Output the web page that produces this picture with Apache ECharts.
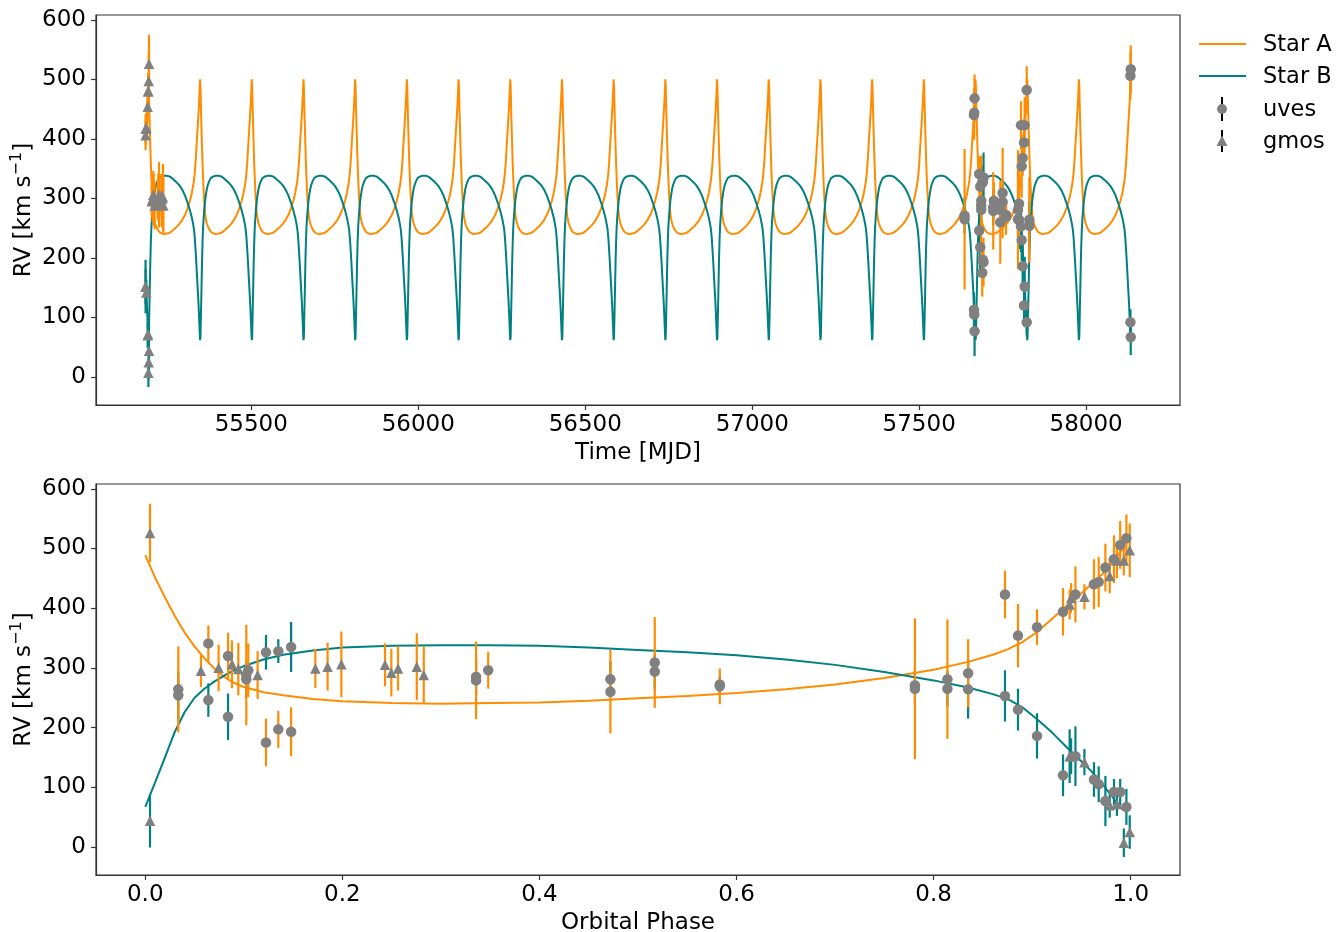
<!DOCTYPE html>
<html>
<head>
<meta charset="utf-8">
<script src="https://cdn.jsdelivr.net/npm/echarts@6/dist/echarts.min.js"></script>
<style>
  html, body { margin: 0; padding: 0; background: #fff; }
  #chart { width: 1343px; height: 932px; }
</style>
</head>
<body>
<div id="chart"></div>
<script>
// Orbital ephemeris used to place each epoch in time
const PERIOD = 154.8;   // days
const T0 = 55193;       // MJD of phase zero

// Model radial-velocity curves over one orbit (km/s)
const modelPhase = [0.000, 0.010, 0.020, 0.030, 0.040, 0.050, 0.060, 0.070, 0.080, 0.090,
                    0.100, 0.120, 0.140, 0.170, 0.200, 0.250, 0.300, 0.350, 0.400, 0.450,
                    0.500, 0.550, 0.600, 0.650, 0.700, 0.750, 0.800, 0.835, 0.860, 0.875,
                    0.890, 0.905, 0.920, 0.935, 0.950, 0.960, 0.970, 0.980, 0.985, 0.992];
const modelA = [489, 451, 418, 387, 359, 336, 316, 299, 285, 275,
                268, 259, 254, 248, 244, 241, 240, 241, 242, 245,
                249, 253, 258, 264, 272, 283, 297, 310, 322, 331,
                343, 360, 382, 404, 425, 440, 455, 473, 484, 500];
const modelB = [67, 108, 150, 193, 226, 250, 265, 277, 287, 296,
                303, 314, 322, 329, 334, 337, 338, 338, 337, 334,
                330, 326, 321, 314, 305, 293, 279, 267, 256, 248,
                234, 214, 192, 167, 143, 127, 108, 87, 76, 62];

// UVES epochs: orbit cycle, phase, RV of each star and its 1-sigma error (km/s)
const uvesCycle = [15, 15, 15, 15, 16, 16, 16, 16, 16, 16, 16, 16, 16, 16, 16, 16, 16, 16, 16, 16, 16, 16, 16, 16, 17, 18, 18];
const uvesPhase = [0.781, 0.9627, 0.9675, 0.9743, 0.064, 0.084, 0.1025, 0.1045, 0.1225, 0.135,
                   0.148, 0.3357, 0.348, 0.472, 0.517, 0.583, 0.814, 0.835, 0.8724, 0.8856,
                   0.9049, 0.9313, 0.9439, 0.983, 0.0335, 0.9893, 0.9956];
const uvesRvA  = [265, 440, 444, 468, 341, 320, 288, 296, 175, 197,
                  193, 279, 296, 260, 309, 269, 281, 291, 423, 354,
                  368, 394, 423, 482, 264, 506, 517];
const uvesErrA = [118, 42, 42, 40, 30, 39, 84, 45, 40, 31,
                  41, 65, 31, 70, 76, 30, 100, 57, 40, 53,
                  30, 40, 47, 40, 72, 40, 40];
const uvesRvB  = [271, 113, 105, 77, 246, 218, 281, null, 326, 328,
                  335, 285, null, 281, 294, 272, 265, 264, 253, 230,
                  186, 120, 152, 92, 254, 92, 67];
const uvesErrB = [30, 29, 30, 42, 28, 39, 30, null, 29, 20,
                  42, 30, null, 30, 30, 15, 30, 49, 43, 35,
                  38, 35, 50, 22, 40, 22, 30];

// GMOS epochs
const gmosCycle = [-1, -1, -1, -1, -1, -1, -1, 0, 0, 0, 0, 0, 0, 0, 0, 0, 0, 0, 0, 0, 0];
const gmosPhase = [0.938, 0.9395, 0.953, 0.9787, 0.986, 0.993, 0.999, 0.0048, 0.0565, 0.0744,
                   0.088, 0.0944, 0.114, 0.1726, 0.185, 0.199, 0.2433, 0.2497, 0.2565, 0.2755,
                   0.2826];
const gmosRvA  = [406, 417, 419, 454, 480, 480, 497, 526, 295, 300,
                  306, 298, 288, 299, 302, 306, 305, 292, 299, 302,
                  288];
const gmosErrA = [25, 25, 21, 29, 30, 25, 45, 49, 27, 39,
                  40, 44, 40, 33, 40, 55, 36, 40, 37, 56,
                  48];
const gmosRvB  = [152, 152, 142, 70, 72, 7, 25, 44, null, null,
                  null, null, null, null, null, null, null, null, null, null,
                  null];
const gmosErrB = [45, 30, 22, 21, 20, 24, 28, 45, null, null,
                  null, null, null, null, null, null, null, null, null, null,
                  null];

// Axis ticks
const timeTicks  = [55500, 56000, 56500, 57000, 57500, 58000];
const phaseTicks = [0.0, 0.2, 0.4, 0.6, 0.8, 1.0];
const rvTicks    = [0, 100, 200, 300, 400, 500, 600];

const COLOR_A = '#ff8c00';
const COLOR_B = '#008080';
const MARK = '#808080';
const FONT = 'DejaVu Sans';

const mjd = (cycle, phase) => T0 + PERIOD * (cycle + phase);

// Collect marks for one instrument
function build(cycles, phases, rvA, errA, rvB, errB) {
  const out = { ptsTime: [], ptsPhase: [], barATime: [], barAPhase: [], barBTime: [], barBPhase: [], times: [] };
  phases.forEach((p, i) => {
    const t = mjd(cycles[i], p);
    out.times.push(t);
    if (rvB[i] !== null) {
      out.barBTime.push([t, rvB[i] - errB[i], rvB[i] + errB[i]]);
      out.barBPhase.push([p, rvB[i] - errB[i], rvB[i] + errB[i]]);
      out.ptsTime.push([t, rvB[i]]);
      out.ptsPhase.push([p, rvB[i]]);
    }
    out.barATime.push([t, rvA[i] - errA[i], rvA[i] + errA[i]]);
    out.barAPhase.push([p, rvA[i] - errA[i], rvA[i] + errA[i]]);
    out.ptsTime.push([t, rvA[i]]);
    out.ptsPhase.push([p, rvA[i]]);
  });
  return out;
}

const uves = build(uvesCycle, uvesPhase, uvesRvA, uvesErrA, uvesRvB, uvesErrB);
const gmos = build(gmosCycle, gmosPhase, gmosRvA, gmosErrA, gmosRvB, gmosErrB);

// Model curve repeated over the span of the observations
const allTimes = uves.times.concat(gmos.times);
const tStart = Math.min(...allTimes);
const tEnd = Math.max(...allTimes);
const allCycles = uvesCycle.concat(gmosCycle);
const topA = [], topB = [];
for (let k = Math.min(...allCycles); k <= Math.max(...allCycles); k++) {
  modelPhase.forEach((p, i) => {
    const t = mjd(k, p);
    if (t >= tStart && t <= tEnd) {
      topA.push([t, modelA[i]]);
      topB.push([t, modelB[i]]);
    }
  });
}
const foldA = modelPhase.map((p, i) => [p, modelA[i]]);
const foldB = modelPhase.map((p, i) => [p, modelB[i]]);

function errorBar(params, api) {
  const x = api.value(0);
  const a = api.coord([x, api.value(1)]);
  const b = api.coord([x, api.value(2)]);
  return {
    type: 'line',
    shape: { x1: a[0], y1: a[1], x2: b[0], y2: b[1] },
    style: { stroke: api.visual('color'), lineWidth: 2.2 }
  };
}

const tickStyle = { color: '#000', fontSize: 23, fontFamily: FONT };
const nameStyle = { color: '#000', fontSize: 23, fontFamily: FONT };
const rvName = '{a|RV [km s}{b|\u22121}{a|]}';
const rvNameStyle = {
  rich: {
    a: { fontSize: 23, fontFamily: FONT, color: '#000', lineHeight: 31 },
    b: { fontSize: 16, fontFamily: FONT, color: '#000', lineHeight: 16, verticalAlign: 'top' }
  }
};

function xAxisDef(gridIndex, min, max, ticks, fmt, name) {
  return {
    type: 'value', gridIndex, min, max,
    name, nameLocation: 'middle', nameGap: 37, nameTextStyle: nameStyle, nameMoveOverlap: false,
    axisLine: { show: true, onZero: false, lineStyle: { color: '#333', width: 1.2 } },
    axisTick: { show: true, length: 5, customValues: ticks, lineStyle: { color: '#333', width: 1.2 } },
    axisLabel: { customValues: ticks, formatter: fmt, margin: 9, ...tickStyle },
    splitLine: { show: false }
  };
}
function yAxisDef(gridIndex) {
  return {
    type: 'value', gridIndex, min: -47, max: 608,
    name: rvName, nameLocation: 'middle', nameGap: 56, nameRotate: 90, nameTextStyle: rvNameStyle,
    nameMoveOverlap: false,
    axisLine: { show: true, onZero: false, lineStyle: { color: '#333', width: 1.2 } },
    axisTick: { show: true, length: 5, customValues: rvTicks, lineStyle: { color: '#333', width: 1.2 } },
    axisLabel: { customValues: rvTicks, formatter: v => String(v), margin: 10, ...tickStyle },
    splitLine: { show: false }
  };
}

function lineSeries(xi, data, color) {
  return {
    type: 'line', xAxisIndex: xi, yAxisIndex: xi, data,
    showSymbol: false, symbol: 'none', animation: false, z: 2,
    lineStyle: { color, width: 2 }, clip: true
  };
}
function barSeries(xi, data, color, z) {
  return {
    type: 'custom', xAxisIndex: xi, yAxisIndex: xi, data,
    renderItem: errorBar, itemStyle: { color }, encode: { x: 0, y: [1, 2] },
    animation: false, clip: true, z
  };
}
function markSeries(xi, data, symbol, size) {
  return {
    type: 'scatter', xAxisIndex: xi, yAxisIndex: xi, data, symbol, symbolSize: size,
    itemStyle: { color: MARK, opacity: 1 }, animation: false, z: 5
  };
}

// Legend drawn as plain graphic elements
const legendX = 1199, legendTextX = 1263;
const rowY = [44, 76, 109, 141];
const legend = [
  { type: 'line', shape: { x1: legendX, y1: rowY[0], x2: legendX + 47, y2: rowY[0] }, style: { stroke: COLOR_A, lineWidth: 2 } },
  { type: 'line', shape: { x1: legendX, y1: rowY[1], x2: legendX + 47, y2: rowY[1] }, style: { stroke: COLOR_B, lineWidth: 2 } },
  { type: 'line', shape: { x1: 1222, y1: rowY[2] - 12, x2: 1222, y2: rowY[2] + 12 }, style: { stroke: '#000', lineWidth: 2 } },
  { type: 'circle', shape: { cx: 1222, cy: rowY[2], r: 5 }, style: { fill: MARK } },
  { type: 'line', shape: { x1: 1222, y1: rowY[3] - 11, x2: 1222, y2: rowY[3] + 11 }, style: { stroke: '#000', lineWidth: 2 } },
  { type: 'polygon', shape: { points: [[1222, rowY[3] - 5.5], [1227.5, rowY[3] + 5], [1216.5, rowY[3] + 5]] }, style: { fill: MARK } }
];
['Star A', 'Star B', 'uves', 'gmos'].forEach((label, i) => {
  legend.push({
    type: 'text', x: legendTextX, y: rowY[i] + 1,
    style: { text: label, fontSize: 22.5, fontFamily: FONT, fill: '#000', verticalAlign: 'middle', align: 'left' }
  });
});

const chart = echarts.init(document.getElementById('chart'), null, { renderer: 'canvas' });
chart.setOption({
  backgroundColor: '#fff',
  animation: false,
  grid: [
    { left: 96, width: 1084, top: 15, height: 390, outerBoundsMode: 'none', containLabel: false,
      show: true, borderColor: '#333', borderWidth: 1.2, backgroundColor: 'transparent' },
    { left: 96, width: 1084, top: 484, height: 391, outerBoundsMode: 'none', containLabel: false,
      show: true, borderColor: '#333', borderWidth: 1.2, backgroundColor: 'transparent' }
  ],
  xAxis: [
    xAxisDef(0, 55035, 58281, timeTicks, v => String(v), 'Time [MJD]'),
    xAxisDef(1, -0.05, 1.05, phaseTicks, v => v.toFixed(1), 'Orbital Phase')
  ],
  yAxis: [yAxisDef(0), yAxisDef(1)],
  graphic: legend,
  series: [
    lineSeries(0, topA, COLOR_A),
    lineSeries(0, topB, COLOR_B),
    lineSeries(1, foldA, COLOR_A),
    lineSeries(1, foldB, COLOR_B),
    barSeries(0, uves.barBTime.concat(gmos.barBTime), COLOR_B, 3),
    barSeries(0, uves.barATime.concat(gmos.barATime), COLOR_A, 4),
    barSeries(1, uves.barBPhase.concat(gmos.barBPhase), COLOR_B, 3),
    barSeries(1, uves.barAPhase.concat(gmos.barAPhase), COLOR_A, 4),
    markSeries(0, uves.ptsTime, 'circle', 10.5),
    markSeries(0, gmos.ptsTime, 'triangle', 10.5),
    markSeries(1, uves.ptsPhase, 'circle', 10.5),
    markSeries(1, gmos.ptsPhase, 'triangle', 10.5)
  ]
});
</script>
</body>
</html>
